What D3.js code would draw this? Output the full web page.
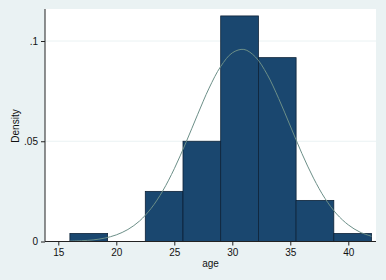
<!DOCTYPE html>
<html>
<head>
<meta charset="utf-8">
<script src="https://cdn.jsdelivr.net/npm/d3@7"></script>
<style>
  body { margin: 0; background: #eaf2f3; }
  svg { display: block; font-family: "Liberation Sans", Arial, sans-serif; }
</style>
</head>
<body>
<div class="chart-container"></div>
<script>
// histogram of age, bins of width 3.25 starting at 16
const binStarts = [16, 19.25, 22.5, 25.75, 29, 32.25, 35.5, 38.75];
const binEnds = [19.25, 22.5, 25.75, 29, 32.25, 35.5, 38.75, 42];
const densities = [0.004, 0, 0.025, 0.05, 0.1125, 0.0917, 0.0205, 0.004];

// normal overlay
const curveAge = [16, 17, 18, 19, 20, 21, 22, 23, 24, 25, 26, 27, 28, 29, 30, 31, 32, 33, 34, 35, 36, 37, 38, 39, 40, 41, 42];
const curveDensity = [0.0002, 0.0004, 0.0008, 0.0017, 0.0033, 0.006, 0.0102, 0.0165, 0.0252, 0.0363, 0.0493, 0.0632, 0.0765, 0.0873, 0.0941, 0.0958, 0.092, 0.0834, 0.0713, 0.0576, 0.0439, 0.0316, 0.0214, 0.0137, 0.0083, 0.0047, 0.0026];

const xTicks = [15, 20, 25, 30, 35, 40];
const yTicks = [0, 0.05, 0.1];
const yTickLabels = ["0", ".05", ".1"];

let width = 386, height = 280;
let plot = {left: 45, right: 376, top: 9, bottom: 242};

let svg = d3.select('.chart-container')
  .append('svg')
  .attr('width', width)
  .attr('height', height);

svg.append("rect")
  .attr("width", width).attr("height", height)
  .attr("fill", "#eaf2f3");

svg.append("rect")
  .attr("x", plot.left).attr("y", plot.top)
  .attr("width", plot.right - plot.left)
  .attr("height", plot.bottom - plot.top)
  .attr("fill", "#ffffff");

// x(15)=58.3, 11.6 px per year
let x = d3.scaleLinear().domain([15, 40]).range([58.3, 348.3]);
let y = d3.scaleLinear().domain([0, 0.1]).range([241.5, 41]);

// gridlines
svg.append("g")
  .selectAll("line")
  .data(yTicks.filter(d => d > 0))
  .enter()
  .append("line")
  .attr("x1", plot.left).attr("x2", plot.right)
  .attr("y1", d => y(d)).attr("y2", d => y(d))
  .attr("stroke", "#eaf2f3")
  .attr("stroke-width", 1);

// bars
svg.append("g")
  .selectAll("rect")
  .data(densities.map((d, i) => ({x0: binStarts[i], x1: binEnds[i], d: d})).filter(b => b.d > 0))
  .enter()
  .append("rect")
  .attr("x", b => x(b.x0))
  .attr("y", b => y(b.d))
  .attr("width", b => x(b.x1) - x(b.x0))
  .attr("height", b => y(0) - y(b.d))
  .attr("fill", "#1a476f")
  .attr("stroke", "#0d2238")
  .attr("stroke-width", 0.8);

// normal curve
let line = d3.line()
  .x(d => x(d[0]))
  .y(d => y(d[1]))
  .curve(d3.curveCatmullRom);

svg.append("path")
  .datum(curveAge.map((a, i) => [a, curveDensity[i]]))
  .attr("d", line)
  .attr("fill", "none")
  .attr("stroke", "#6c8f88")
  .attr("stroke-width", 1);

// y axis
let yAxis = svg.append("g")
  .attr("transform", "translate(" + plot.left + ",0)")
  .call(d3.axisLeft(y).tickValues(yTicks).tickSize(4)
    .tickFormat((d, i) => yTickLabels[i]));
yAxis.select(".domain").attr("d", "M0," + plot.top + "V" + y(0)).attr("stroke", "#222");

// x axis
let xAxis = svg.append("g")
  .attr("transform", "translate(0," + y(0) + ")")
  .call(d3.axisBottom(x).tickValues(xTicks).tickSize(4));
xAxis.select(".domain").attr("d", "M" + plot.left + ",0H" + plot.right).attr("stroke", "#222");

svg.selectAll(".tick line").attr("stroke", "#222");
svg.selectAll(".tick text")
  .attr("fill", "#111")
  .style("font-size", "10px")
  .style("font-family", "Liberation Sans, Arial, sans-serif");

// axis titles
svg.append("text")
  .attr("x", (plot.left + plot.right) / 2)
  .attr("y", 267)
  .attr("text-anchor", "middle")
  .attr("fill", "#111")
  .style("font-size", "10px")
  .text("age");

svg.append("text")
  .attr("transform", "translate(19,126) rotate(-90)")
  .attr("text-anchor", "middle")
  .attr("fill", "#111")
  .style("font-size", "10px")
  .text("Density");
</script>
</body>
</html>
